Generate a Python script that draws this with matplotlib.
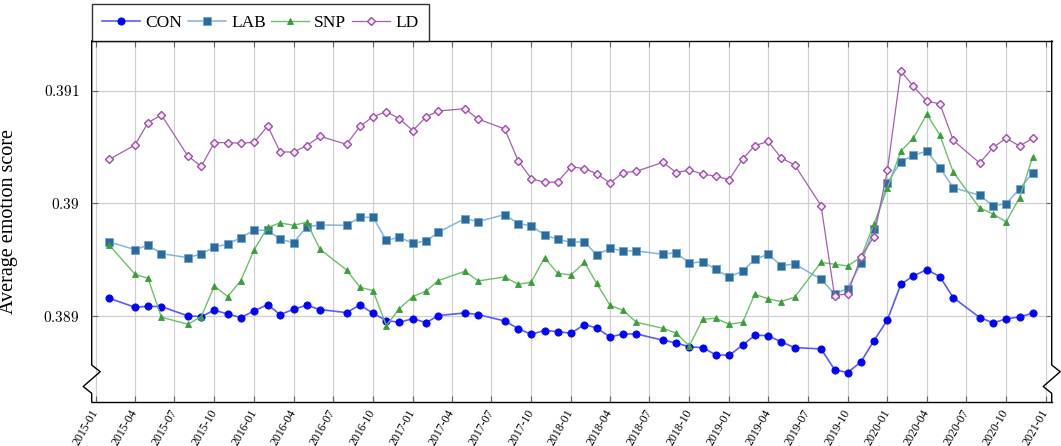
import matplotlib
matplotlib.use("Agg")
import matplotlib.pyplot as plt
import matplotlib.dates as mdates
from matplotlib.ticker import FixedLocator
from matplotlib.lines import Line2D
import datetime as dt

plt.rcParams['font.family'] = ['Liberation Serif', 'DejaVu Serif']
plt.rcParams['mathtext.fontset'] = 'cm'

months = ["2015-02","2015-04","2015-05","2015-06","2015-08","2015-09","2015-10","2015-11","2015-12",
          "2016-01","2016-02","2016-03","2016-04","2016-05","2016-06","2016-08","2016-09","2016-10","2016-11","2016-12",
          "2017-01","2017-02","2017-03","2017-05","2017-06","2017-08","2017-09","2017-10","2017-11","2017-12",
          "2018-01","2018-02","2018-03","2018-04","2018-05","2018-06","2018-08","2018-09","2018-10","2018-11","2018-12",
          "2019-01","2019-02","2019-03","2019-04","2019-05","2019-06","2019-08","2019-09","2019-10","2019-11","2019-12",
          "2020-01","2020-02","2020-03","2020-04","2020-05","2020-06","2020-08","2020-09","2020-10","2020-11","2020-12"]

con = [0.389158, 0.389078, 0.389087, 0.389084, 0.389002, 0.388996, 0.389052, 0.389019, 0.388987,
       0.389046, 0.389102, 0.389013, 0.389061, 0.389096, 0.389058, 0.389031, 0.389099, 0.389025, 0.388960, 0.388945,
       0.388978, 0.388942, 0.389005, 0.389028, 0.389013, 0.388957, 0.388889, 0.388839, 0.388872, 0.388863,
       0.388848, 0.388925, 0.388895, 0.388815, 0.388842, 0.388842, 0.388786, 0.388762, 0.388727, 0.388721, 0.388656,
       0.388653, 0.388742, 0.388830, 0.388827, 0.388771, 0.388721, 0.388709, 0.388526, 0.388499, 0.388594, 0.388783,
       0.388966, 0.389282, 0.389356, 0.389412, 0.389350, 0.389164, 0.388987, 0.388940, 0.388975, 0.388993, 0.389025]

lab = [0.389657, 0.389589, 0.389628, 0.389554, 0.389518, 0.389551, 0.389613, 0.389637, 0.389696,
       0.389761, 0.389761, 0.389681, 0.389651, 0.389793, 0.389808, 0.389805, 0.389876, 0.389876, 0.389672, 0.389699,
       0.389646, 0.389666, 0.389743, 0.389864, 0.389838, 0.389900, 0.389820, 0.389802, 0.389719, 0.389681,
       0.389654, 0.389660, 0.389542, 0.389601, 0.389578, 0.389578, 0.389548, 0.389563, 0.389468, 0.389483, 0.389415,
       0.389344, 0.389400, 0.389504, 0.389548, 0.389448, 0.389462, 0.389326, 0.389197, 0.389244, 0.389468, 0.389775,
       0.390183, 0.390369, 0.390425, 0.390464, 0.390316, 0.390139, 0.390071, 0.389976, 0.389997, 0.390127, 0.390269]

snp = [0.389628, 0.389371, 0.389335, 0.388990, 0.388928, 0.388996, 0.389267, 0.389173, 0.389315,
       0.389589, 0.389787, 0.389826, 0.389805, 0.389832, 0.389592, 0.389409, 0.389256, 0.389226, 0.388916, 0.389067,
       0.389173, 0.389223, 0.389315, 0.389397, 0.389312, 0.389347, 0.389282, 0.389300, 0.389518, 0.389380,
       0.389365, 0.389477, 0.389291, 0.389096, 0.389052, 0.388945, 0.388892, 0.388848, 0.388736, 0.388972, 0.388981,
       0.388928, 0.388945, 0.389194, 0.389152, 0.389129, 0.389167, 0.389477, 0.389459, 0.389445, 0.389521, 0.389817,
       0.390136, 0.390461, 0.390579, 0.390789, 0.390606, 0.390275, 0.389959, 0.389905, 0.389835, 0.390050, 0.390408]

ld = [0.390390, 0.390517, 0.390715, 0.390783, 0.390419, 0.390328, 0.390538, 0.390538, 0.390532,
      0.390541, 0.390685, 0.390455, 0.390455, 0.390511, 0.390594, 0.390523, 0.390682, 0.390768, 0.390812, 0.390750,
      0.390644, 0.390768, 0.390818, 0.390839, 0.390747, 0.390659, 0.390378, 0.390219, 0.390186, 0.390189,
      0.390325, 0.390307, 0.390263, 0.390180, 0.390272, 0.390284, 0.390363, 0.390272, 0.390295, 0.390260, 0.390239,
      0.390210, 0.390393, 0.390511, 0.390549, 0.390402, 0.390340, 0.389979, 0.389182, 0.389197, 0.389524, 0.389705,
      0.390292, 0.391173, 0.391037, 0.390904, 0.390883, 0.390558, 0.390357, 0.390496, 0.390576, 0.390508, 0.390576]

xtick_labels = [f"{y}-{m:02d}" for y in range(2015, 2021) for m in (1, 4, 7, 10)] + ["2021-01"]
ytick_values = [0.389, 0.390, 0.391]
ytick_labels = ["0.389", "0.39", "0.391"]
series_names = ["CON", "LAB", "SNP", "LD"]

dates = [dt.datetime.strptime(m + "-01", "%Y-%m-%d") for m in months]
xd = mdates.date2num(dates)

W, H = 1061, 446
fig = plt.figure(figsize=(W / 100, H / 100), dpi=100)
ax_l, ax_r, ax_t, ax_b = 91.7, 1051.7, 41.0, 402.0
ax = fig.add_axes([ax_l / W, 1 - ax_b / H, (ax_r - ax_l) / W, (ax_b - ax_t) / H])

styles = [
    dict(color="#5a5aff", lw=1.2, marker="o", ms=5.2, mfc="#0000ff", mec="#0000ff", mew=0.6),
    dict(color="#84b4dc", lw=1.1, marker="s", ms=5.2, mfc="#2b6a9c", mec="#6fa6d2", mew=0.6),
    dict(color="#6cc06c", lw=1.0, marker="^", ms=4.8, mfc="#3a9e3a", mec="#3a9e3a", mew=0.6),
    dict(color="#a55fb0", lw=0.9, marker="D", ms=4.0, mfc="#f6eaf6", mec="#9b4fa8", mew=1.0),
]
for vals, name, st in zip([con, lab, snp, ld], series_names, styles):
    ax.plot(xd, vals, label=name, zorder=3, **st)

x0 = mdates.date2num(dt.datetime(2015, 1, 1))
ppd = 0.4334
ax.set_xlim(x0 - (96 - ax_l) / ppd, x0 + (ax_r - 96) / ppd)
y039 = 203.3
ppv = 112.8 / 0.001
ax.set_ylim(0.390 - (ax_b - y039) / ppv, 0.390 + (y039 - ax_t) / ppv)

tick_dates = [mdates.date2num(dt.datetime.strptime(s + "-01", "%Y-%m-%d")) for s in xtick_labels]
ax.xaxis.set_major_locator(FixedLocator(tick_dates))
ax.set_xticklabels(xtick_labels, rotation=60, ha="right", va="center", rotation_mode="anchor", fontsize=8.5)
ax.yaxis.set_major_locator(FixedLocator(ytick_values))
ax.set_yticklabels(["$" + s + "$" for s in ytick_labels], fontsize=11)

ax.grid(True, color="#d0d0d0", lw=0.9, zorder=0)
ax.set_axisbelow(True)
ax.tick_params(axis="both", direction="in", top=True, right=True, length=4, width=0.8, color="#666666")
ax.tick_params(axis="x", pad=6)
ax.tick_params(axis="y", pad=9)

for sp in ["left", "right"]:
    ax.spines[sp].set_visible(False)
for sp in ["top", "bottom"]:
    ax.spines[sp].set_linewidth(1.0)

axw, axh = ax_r - ax_l, ax_b - ax_t
def ay(py):
    return (ax_b - py) / axh
dx = 8.5 / axw
for xs in (0.0, 1.0):
    pts_x = [xs, xs, xs + dx, xs - dx, xs, xs]
    pts_y = [1.0, ay(365), ay(371.7), ay(386.5), ay(393.3), 0.0]
    ax.add_line(Line2D(pts_x, pts_y, transform=ax.transAxes, color="black", lw=1.0,
                       clip_on=False, zorder=5))

ax.set_ylabel("Average emotion score", fontsize=14.5)
ax.yaxis.set_label_coords(-(ax_l - 18) / axw, 0.5)

leg = ax.legend(loc="lower left", bbox_to_anchor=(0, 1), ncol=4, frameon=True, fancybox=False,
                edgecolor="black", fontsize=12.5, handlelength=2.2, handletextpad=0.3,
                columnspacing=0.3, borderaxespad=0, borderpad=0.6)
leg.get_frame().set_linewidth(1.0)

fig.savefig("out.png", dpi=100)
